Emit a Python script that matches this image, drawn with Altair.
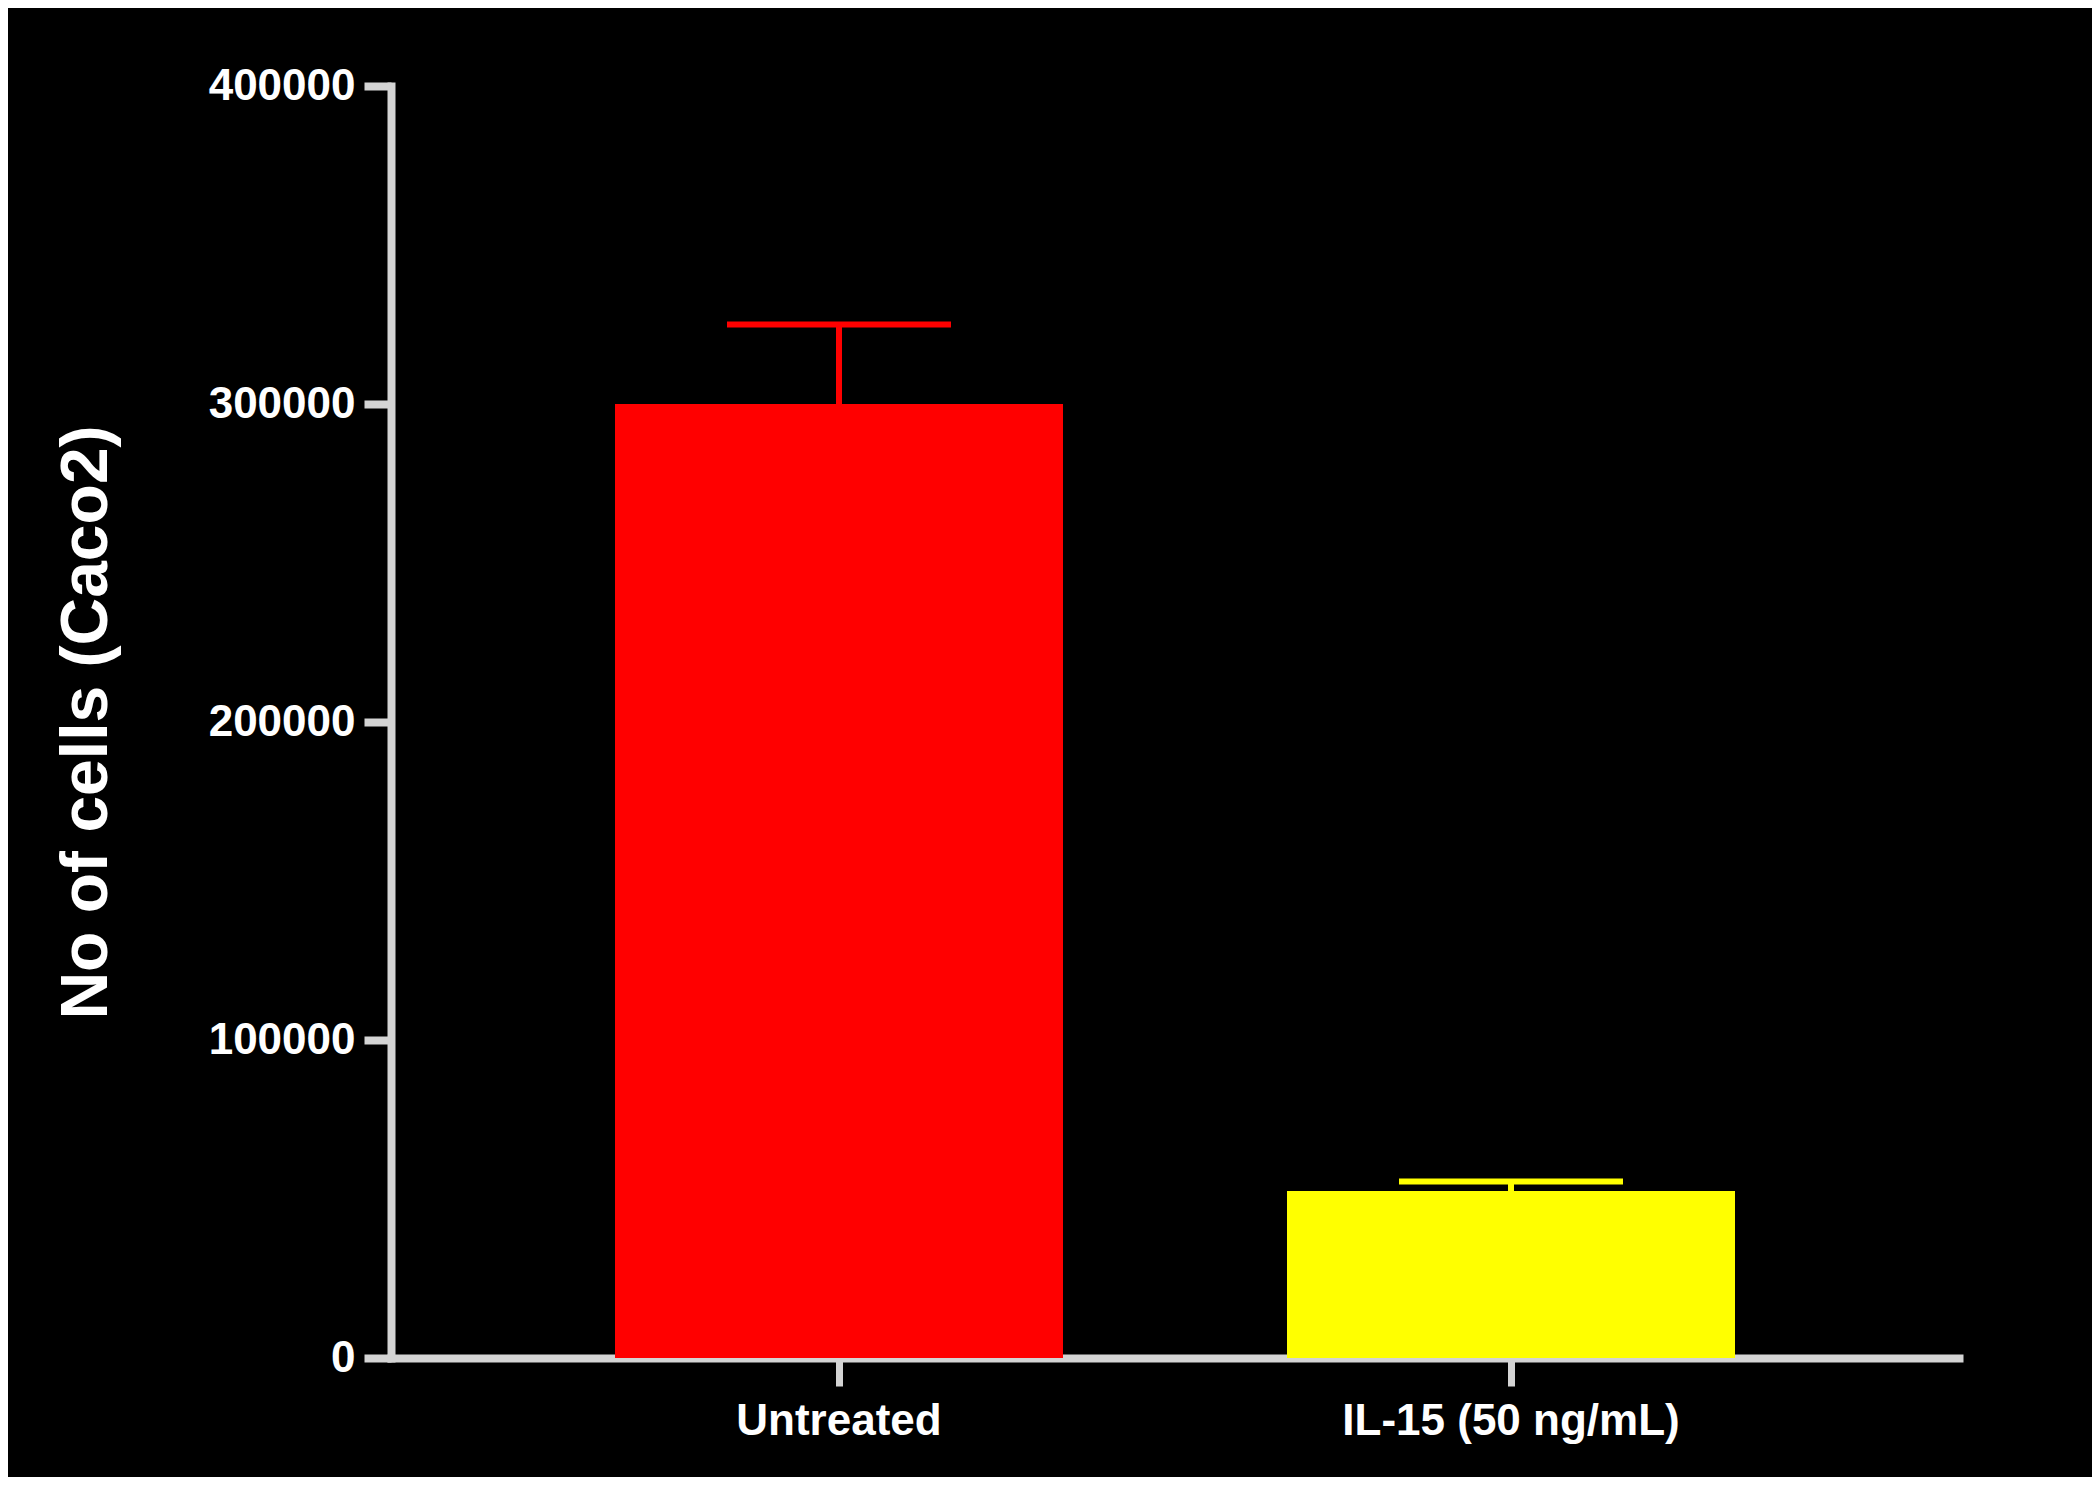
import altair as alt
import pandas as pd

# Data
groups = ["Untreated", "IL-15 (50 ng/mL)"]
means = [300000, 52500]
upper = [325000, 55500]
bar_colors = ["#ff0000", "#ffff00"]
y_ticks = [0, 100000, 200000, 300000, 400000]

df = pd.DataFrame({"group": groups, "mean": means, "upper": upper, "color": bar_colors})

AXIS_GRAY = "#d4d4d4"
FONT = "Liberation Sans"

x_enc = alt.X(
    "group:N",
    sort=groups,
    scale=alt.Scale(paddingInner=1 / 3, paddingOuter=1 / 3),
    axis=alt.Axis(
        title=None,
        labelAngle=0,
        labelFontSize=44,
        labelPadding=13,
        labelLimit=0,
        tickWidth=7,
        tickSize=28,
    ),
)
y_enc = alt.Y(
    "mean:Q",
    scale=alt.Scale(domain=[0, 400000], nice=False, zero=True),
    axis=alt.Axis(
        values=y_ticks,
        format="d",
        title="No of cells (Caco2)",
        titleFontSize=66,
        titleX=-305,
        titleY=636,
        titleAngle=-90,
        titleAlign="center",
        titleBaseline="middle",
        labelFontSize=44,
        labelPadding=9,
        labelLimit=0,
        tickSize=27,
        tickWidth=8,
    ),
)
color_enc = alt.Color("color:N", scale=None, legend=None)

bars = alt.Chart(df).mark_bar(opacity=1).encode(x=x_enc, y=y_enc, color=color_enc)

err = alt.Chart(df).mark_rule(strokeWidth=6, opacity=1).encode(
    x=alt.X("group:N", sort=groups),
    y=alt.Y("mean:Q"),
    y2="upper:Q",
    color=color_enc,
)

cap = alt.Chart(df).mark_tick(size=224, thickness=6, orient="horizontal", opacity=1).encode(
    x=alt.X("group:N", sort=groups),
    y=alt.Y("upper:Q"),
    color=color_enc,
)

chart = (
    alt.layer(bars, err, cap)
    .properties(
        width=1568,
        height=1272,
        autosize=alt.AutoSizeParams(type="none"),
        padding={"left": 383, "top": 78, "right": 133, "bottom": 119},
        background="black",
    )
    .configure_view(stroke=None)
    .configure_axis(
        grid=False,
        domainColor=AXIS_GRAY,
        domainWidth=8,
        domainCap="square",
        tickColor=AXIS_GRAY,
        labelColor="white",
        labelFont=FONT,
        labelFontWeight="bold",
        titleColor="white",
        titleFont=FONT,
        titleFontWeight="bold",
    )
)

chart.save("out.html", embed_options={"renderer": "svg", "actions": False})
